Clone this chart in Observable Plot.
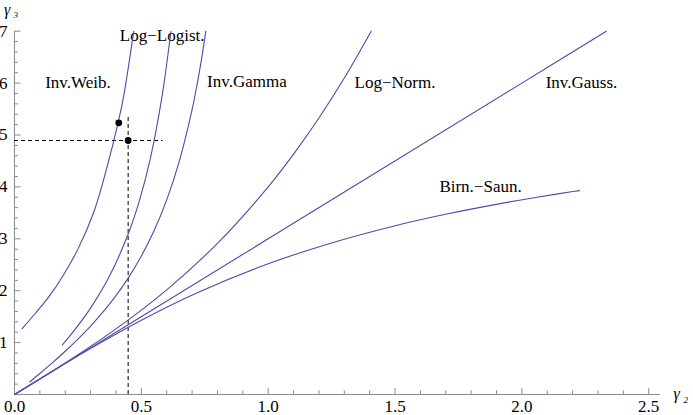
<!DOCTYPE html>
<html><head><meta charset="utf-8">
<script src="https://cdn.jsdelivr.net/npm/d3@7"></script>
<script src="https://cdn.jsdelivr.net/npm/@observablehq/plot@0.6"></script>
<style>html,body{margin:0;padding:0;background:#fff}svg{display:block}</style>
</head><body><div id="chart"></div>
<script>
// ---- data ----
const invWeibX  = [0.030, 0.085, 0.1396, 0.19, 0.2505, 0.3141, 0.37, 0.4247, 0.448, 0.470];
const invWeibY  = [1.27, 1.58, 1.91, 2.28, 2.806, 3.535, 4.48, 5.605, 6.28, 7.0];
const logLogX   = [0.1887, 0.2387, 0.3043, 0.3745, 0.4508, 0.4921, 0.5358, 0.5824, 0.6121, 0.617];
const logLogY   = [0.955, 1.254, 1.698, 2.281, 3.127, 3.731, 4.556, 5.768, 6.824, 7.0];
const invGamX   = [0.06, 0.1, 0.15, 0.2, 0.25, 0.3, 0.35, 0.4, 0.45, 0.5, 0.55, 0.6, 0.65, 0.7, 0.72, 0.74, 0.754];
const invGamY   = [0.241, 0.404, 0.614, 0.833, 1.067, 1.319, 1.595, 1.905, 2.257, 2.667, 3.154, 3.75, 4.502, 5.49, 5.98, 6.543, 7.0];
const logNormX  = [0, 0.2, 0.4, 0.6, 0.8, 1.0, 1.1, 1.2, 1.3, 1.406];
const logNormY  = [0, 0.608, 1.264, 2.016, 2.912, 4.0, 4.631, 5.328, 6.097, 7.0];
const invGaussX = [0, 1, 2, 2.333];
const invGaussY = [0, 3, 6, 7.0];
const birnX     = [0, 0.1001, 0.3028, 0.5092, 0.714, 1.0, 1.2431, 1.4932, 1.708, 1.9091, 2.0367, 2.1418, 2.201, 2.2272];
const birnY     = [0, 0.2999, 0.8936, 1.4548, 1.9469, 2.5185, 2.9107, 3.2426, 3.4812, 3.6735, 3.7825, 3.8655, 3.9099, 3.929];

const curveNames = ["Inv.Weib.", "Log−Logist.", "Inv.Gamma", "Log−Norm.", "Inv.Gauss.", "Birn.−Saun."];
const labelX = [0.25, 0.582, 0.916, 1.50, 2.235, 1.837];
const labelY = [5.91, 6.81, 5.92, 5.915, 5.905, 3.90];

const pointX = [0.411, 0.448];
const pointY = [5.235, 4.894];
const dashH = {y: 4.894, x1: 0, x2: 0.585};
const dashV = {x: 0.448, y1: 0, y2: 5.36};

const xTickLabels = [0, 0.5, 1, 1.5, 2, 2.5];
const yTickLabels = [1, 2, 3, 4, 5, 6, 7];
const xAxisEnd = 2.546;

// ---- build tables ----
const series = [[invWeibX, invWeibY], [logLogX, logLogY], [invGamX, invGamY],
                [logNormX, logNormY], [invGaussX, invGaussY], [birnX, birnY]];
const rows = series.flatMap(([xs, ys], i) => xs.map((x, j) => ({curve: curveNames[i], x, y: ys[j]})));
const labels = curveNames.map((name, i) => ({name, x: labelX[i], y: labelY[i]}));
const points = pointX.map((x, i) => ({x, y: pointY[i]}));

const xMinor = d3.range(1, 26).map(i => i / 10).filter(v => Math.abs(v * 2 - Math.round(v * 2)) > 1e-9);
const yMinor = d3.range(1, 35).map(i => i / 5).filter(v => Math.abs(v - Math.round(v)) > 1e-9);

const W = 693, H = 415;
const mL = 14, mR = 19.4, mT = 30.7, mB = 21;
const pxX = (W - mL - mR) / 2.6, pxY = (H - mT - mB) / 7;
const axisColor = "#8c8c8c";
const lineColor = "#4c4cab";
const font = "'Liberation Serif', 'Times New Roman', serif";

const chart = Plot.plot({
  width: W, height: H,
  marginLeft: mL, marginRight: mR, marginTop: mT, marginBottom: mB,
  x: {domain: [0, 2.6], axis: null},
  y: {domain: [0, 7], axis: null},
  style: {fontFamily: font, fontSize: "17px", background: "#fff", color: "#000"},
  marks: [
    // axis lines
    Plot.ruleY([0], {x1: 0, x2: xAxisEnd, stroke: axisColor, strokeWidth: 1}),
    Plot.ruleX([0], {y1: 0, y2: 7, stroke: axisColor, strokeWidth: 1}),
    // ticks (pointing inward)
    Plot.ruleX(xTickLabels, {x: d => d, y1: 0, y2: 6 / pxY, stroke: axisColor}),
    Plot.ruleX(xMinor, {x: d => d, y1: 0, y2: 3.7 / pxY, stroke: axisColor}),
    Plot.ruleY(yTickLabels, {y: d => d, x1: 0, x2: 6.5 / pxX, stroke: axisColor}),
    Plot.ruleY(yMinor, {y: d => d, x1: 0, x2: 4 / pxX, stroke: axisColor}),
    Plot.axisX(xTickLabels, {tickSize: 0, tickPadding: 5.5, tickFormat: d3.format(".1f"), fontSize: 17}),
    Plot.axisY(yTickLabels, {tickSize: 0, tickPadding: 7, tickFormat: d => String(d), fontSize: 17}),
    // axis titles
    Plot.text(["γ"], {frameAnchor: "top-left", dx: -10.5, dy: -16.2, textAnchor: "start", lineAnchor: "bottom", fontStyle: "italic", fontSize: 16}),
    Plot.text(["3"], {frameAnchor: "top-left", dx: -1, dy: -13.4, textAnchor: "start", lineAnchor: "bottom", fontStyle: "italic", fontSize: 9}),
    Plot.text(["γ"], {frameAnchor: "bottom-right", dx: -0.6, dy: 4, textAnchor: "start", lineAnchor: "bottom", fontStyle: "italic", fontSize: 16}),
    Plot.text(["2"], {frameAnchor: "bottom-right", dx: 9.5, dy: 8.5, textAnchor: "start", lineAnchor: "bottom", fontStyle: "italic", fontSize: 9}),
    // curve labels
    Plot.text(labels, {x: "x", y: "y", text: "name", textAnchor: "middle", lineAnchor: "bottom", fontSize: 17, fill: "#000"}),
    // dashed guides
    Plot.ruleY([dashH], {y: "y", x1: "x1", x2: "x2", stroke: "#000", strokeDasharray: "4,3", strokeWidth: 1}),
    Plot.ruleX([dashV], {x: "x", y1: "y1", y2: "y2", stroke: "#000", strokeDasharray: "4,3", strokeWidth: 1}),
    // curves
    Plot.line(rows, {x: "x", y: "y", z: "curve", stroke: lineColor, strokeWidth: 1.1, curve: "catmull-rom"}),
    // sample points
    Plot.dot(points, {x: "x", y: "y", r: 3.4, fill: "#000", stroke: "none"})
  ]
});
document.getElementById("chart").append(chart);
</script>
</body></html>
